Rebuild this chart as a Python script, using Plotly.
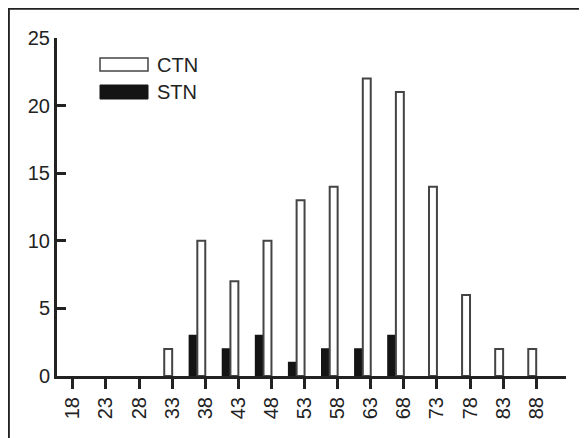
import plotly.graph_objects as go

ages = [18, 23, 28, 33, 38, 43, 48, 53, 58, 63, 68, 73, 78, 83, 88]
ctn = [0, 0, 0, 2, 10, 7, 10, 13, 14, 22, 21, 14, 6, 2, 2]
stn = [0, 0, 0, 0, 3, 2, 3, 1, 2, 2, 3, 0, 0, 0, 0]
y_ticks = [0, 5, 10, 15, 20, 25]
series_names = ["CTN", "STN"]

# the page body has an 8px default margin; lay the figure out in page coords
OFF = 8
W, H = 587 - OFF, 438 - OFF
L, R, T, B = 57 - OFF, 21, 38 - OFF, 62
pw, ph = W - L - R, H - T - B

def px(x):
    return (x - OFF - L) / pw

def py(y):
    return (H - B - (y - OFF)) / ph

def nz(vals):
    return [v if v != 0 else None for v in vals]

fig = go.Figure()
fig.add_trace(go.Bar(
    x=ages, y=nz(stn), width=1.2, offset=-2.4, name=series_names[1],
    marker=dict(color="#141414", line=dict(color="#141414", width=1.5)),
    showlegend=False,
))
fig.add_trace(go.Bar(
    x=ages, y=nz(ctn), width=1.2, offset=-1.2, name=series_names[0],
    marker=dict(color="white", line=dict(color="#444444", width=2)),
    showlegend=False,
))

shapes = [
    dict(type="rect", xref="paper", yref="paper",
         x0=px(OFF + 0.6), x1=px(620), y0=py(OFF + 0.6), y1=py(470),
         line=dict(color="#222222", width=2.5), fillcolor="rgba(0,0,0,0)", layer="above"),
    dict(type="rect", xref="paper", yref="paper",
         x0=px(100), x1=px(148), y0=py(71), y1=py(58),
         line=dict(color="#444444", width=1.5), fillcolor="white"),
    dict(type="rect", xref="paper", yref="paper",
         x0=px(100), x1=px(148), y0=py(99), y1=py(85),
         line=dict(color="#141414", width=1), fillcolor="#141414"),
]
annotations = [
    dict(text=series_names[0], xref="paper", yref="paper", x=px(155), y=py(65),
         xanchor="left", yanchor="middle", showarrow=False,
         font=dict(size=20, color="#222222")),
    dict(text=series_names[1], xref="paper", yref="paper", x=px(155), y=py(92),
         xanchor="left", yanchor="middle", showarrow=False,
         font=dict(size=20, color="#222222")),
]

fig.update_layout(
    template="none",
    width=W, height=H,
    margin=dict(l=L, r=R, t=T, b=B, autoexpand=False),
    paper_bgcolor="white", plot_bgcolor="white",
    font=dict(family="Liberation Sans, Arial, sans-serif", size=20, color="#222222"),
    barmode="overlay",
    shapes=shapes, annotations=annotations,
    xaxis=dict(
        range=[15.6, 92.5], tickmode="array", tickvals=ages,
        ticktext=[str(a) for a in ages], tickangle=-90,
        showline=True, linecolor="#222222", linewidth=3,
        ticks="outside", ticklen=10, tickwidth=3, tickcolor="#222222",
        showgrid=False, zeroline=False, automargin=False,
    ),
    yaxis=dict(
        range=[0, 25], tickmode="array", tickvals=y_ticks,
        showline=True, linecolor="#222222", linewidth=3,
        ticks="inside", ticklen=9, tickwidth=3, tickcolor="#222222",
        showgrid=False, zeroline=False, automargin=False,
    ),
)

fig.write_html("out.html")
